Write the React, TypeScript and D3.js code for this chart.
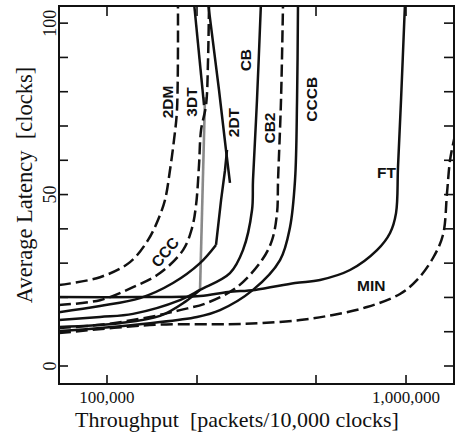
import React from "react";
import * as d3 from "d3";

// ---------- data (throughput [packets/10,000 clocks], latency [clocks]) ----------
const X_DOMAIN = [69100, 1447000];
const Y_DOMAIN = [-5.25, 105];
const X_TICKS = [100000, 200000, 500000, 1000000];
const X_TICK_LABELS = [
  { v: 100000, t: "100,000" },
  { v: 1000000, t: "1,000,000" },
];
const Y_TICKS = [0, 10, 20, 30, 40, 50, 60, 70, 80, 90, 100];
const Y_TICK_LABELS = [0, 50, 100];

const DM2 = [[69100, 23.6], [94760, 25.9], [119400, 30.3], [137100, 36.7], [148100, 42.6], [156300, 48.4], [162400, 57.1], [167500, 65.9], [171400, 74.6], [172700, 106]];
const CCC = [[69100, 17.8], [94760, 19.2], [122200, 23.0], [150400, 27.1], [179600, 33.8], [192400, 40.2], [198500, 46.9], [203100, 58.6], [206300, 68.8], [214400, 76.1], [217700, 89.2], [219400, 106]];
const FT = [[69100, 20.1], [128960, 20.1], [204700, 20.4], [253900, 21.6], [312600, 22.2], [425400, 24.2], [515700, 25.1], [649700, 28.0], [799800, 33.8], [884300, 38.8], [926000, 44.6], [940200, 58.0], [962300, 77.6], [992400, 106]];
const DT2_LOW = [[69100, 15.7], [94760, 17.5], [128960, 19.8], [166200, 24.2], [204700, 30.0], [231500, 35.3]];
const DT2_RISE = [[231500, 35.3], [240700, 48.4], [248100, 57.1], [252000, 63.0]];
const DT2_BACK = [[217700, 106], [236900, 80.5], [250000, 63.0], [257800, 53.4]];
const CB = [[69100, 13.4], [94760, 14.3], [122200, 15.2], [175400, 19.2], [204700, 22.2], [257800, 27.1], [284900, 33.8], [305500, 45.5], [307800, 54.2], [317400, 77.6], [327300, 106]];
const CB2 = [[69100, 11.1], [94760, 12.0], [139300, 14.3], [175400, 16.3], [216000, 18.4], [272100, 23.0], [329900, 30.9], [356400, 36.7], [370400, 44.6], [373300, 54.2], [381900, 77.6], [387900, 106]];
const CCCB = [[69100, 10.2], [94760, 11.1], [139300, 12.5], [200000, 14.3], [238800, 16.3], [307800, 22.2], [379000, 30.9], [409300, 40.5], [425400, 54.2], [432100, 77.6], [435300, 106]];
const DT3_LOW = [[69100, 11.4], [110500, 12.5], [150400, 14.6], [182400, 18.7], [204700, 22.2]];
const DT3_SAT = [[204700, 22.2], [212700, 78.4]];
const DT3_BACK = [[211100, 76.1], [195400, 106]];
const MIN = [[69100, 9.6], [144700, 12.0], [253900, 12.2], [327300, 12.5], [442100, 13.4], [570000, 14.9], [740700, 17.2], [954800, 21.0], [1089000, 25.1], [1231000, 31.5], [1329000, 38.2], [1371000, 50.4], [1404000, 60.1], [1458000, 67.3]];

// curve labels: [text, throughput, latency, rotation]
const LABELS = [
  ["2DM", 158800, 77.0, -90],
  ["3DT", 191400, 77.0, -90],
  ["2DT", 265000, 71.0, -90],
  ["CB", 291500, 89.2, -90],
  ["CB2", 348900, 69.4, -90],
  ["CCCB", 484000, 77.8, -90],
  ["FT", 860000, 56.5, 0],
  ["MIN", 765000, 23.5, 0],
  ["CCC", 156300, 33.2, -50],
];

// ---------- layout ----------
const W = 458, H = 441;
const L = 59, R = 454, T = 6, B = 384;
const SERIF = "'Liberation Serif', 'Times New Roman', serif";
const SANS = "'Liberation Sans', Arial, sans-serif";

export default function App() {
  const x = d3.scaleLog().domain(X_DOMAIN).range([L, R]);
  const y = d3.scaleLinear().domain(Y_DOMAIN).range([B, T]);
  const smooth = d3.line<number[]>().x(d => x(d[0])).y(d => y(d[1])).curve(d3.curveCatmullRom.alpha(0.5));
  const straight = d3.line<number[]>().x(d => x(d[0])).y(d => y(d[1]));

  const dash = "12,5";
  const curves = [
    { d: smooth(DM2), dash: true },
    { d: smooth(CCC), dash: true },
    { d: smooth(FT), dash: false },
    { d: smooth(DT2_LOW), dash: false },
    { d: straight(DT2_RISE), dash: false },
    { d: straight(DT2_BACK), dash: false },
    { d: smooth(CB), dash: false },
    { d: smooth(CB2), dash: true },
    { d: smooth(CCCB), dash: false },
    { d: smooth(DT3_LOW), dash: false },
    { d: straight(DT3_BACK), dash: false },
    { d: smooth(MIN), dash: true },
  ];

  return (
    <svg width={W} height={H} style={{ position: "absolute", left: 0, top: 0, background: "#fff" }}>
      <defs>
        <clipPath id="plot">
          <rect x={L} y={T} width={R - L} height={B - T} />
        </clipPath>
      </defs>
      <g clipPath="url(#plot)" fill="none">
        <path d={straight(DT3_SAT) || ""} stroke="#8a8a8a" strokeWidth={2.6} />
        {curves.map((c, i) => (
          <path key={i} d={c.d || ""} stroke="#111" strokeWidth={2.5}
            strokeDasharray={c.dash ? dash : undefined} strokeLinejoin="round" />
        ))}
      </g>
      {/* frame */}
      <rect x={L} y={T} width={R - L} height={B - T} fill="none" stroke="#111" strokeWidth={2} />
      {/* y ticks */}
      {Y_TICKS.map(v => (
        <g key={"y" + v} stroke="#111" strokeWidth={1.6}>
          <line x1={L} x2={L + 9} y1={y(v)} y2={y(v)} />
          <line x1={R} x2={R - 10} y1={y(v)} y2={y(v)} />
        </g>
      ))}
      {/* x ticks */}
      {X_TICKS.map(v => (
        <g key={"x" + v} stroke="#111" strokeWidth={1.6}>
          <line x1={x(v)} x2={x(v)} y1={B} y2={B - 9} />
          <line x1={x(v)} x2={x(v)} y1={T} y2={T + 10} />
        </g>
      ))}
      {Y_TICK_LABELS.map(v => (
        <text key={"yl" + v} transform={`translate(56,${y(v)}) rotate(-90)`} textAnchor="middle"
          fontFamily={SERIF} fontSize={18} fill="#111">{v}</text>
      ))}
      {X_TICK_LABELS.map(o => (
        <text key={"xl" + o.v} x={x(o.v)} y={403} textAnchor="middle"
          fontFamily={SERIF} fontSize={17} fill="#111">{o.t}</text>
      ))}
      <text x={237} y={427} textAnchor="middle" fontFamily={SERIF} fontSize={22} fill="#111"
        style={{ whiteSpace: "pre" }}>{"Throughput  [packets/10,000 clocks]"}</text>
      <text transform="translate(32,185) rotate(-90)" textAnchor="middle" fontFamily={SERIF} fontSize={22.5}
        fill="#111" style={{ whiteSpace: "pre" }}>{"Average Latency  [clocks]"}</text>
      {LABELS.map(([t, vx, vy, rot]) => (
        <text key={t as string} transform={`translate(${x(vx as number)},${y(vy as number)}) rotate(${rot})`}
          textAnchor="middle" dominantBaseline="central" fontFamily={SANS} fontWeight="bold"
          fontSize={15.5} fill="#111">{t}</text>
      ))}
    </svg>
  );
}
